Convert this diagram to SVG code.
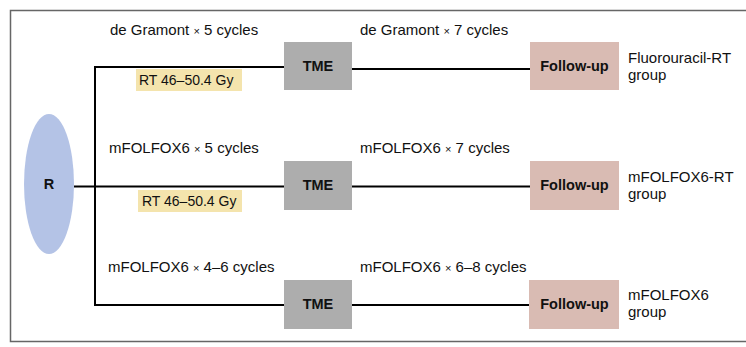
<svg xmlns="http://www.w3.org/2000/svg" width="746" height="347" viewBox="0 0 746 347">
  <style>
    text { font-family: "Liberation Sans", Arial, sans-serif; fill: #111; }
    .lbl { font-size: 15px; }
    .rtl { font-size: 14px; }
    .bold { font-size: 14.5px; font-weight: bold; text-anchor: middle; }
    .tme { fill: #adadad; }
    .fu { fill: #d9bbb3; }
    .rt { fill: #f4e4ad; }
    .conn { stroke: #000; stroke-width: 2; fill: none; }
    .x { font-size: 11px; }
  </style>
  <rect x="0" y="0" width="746" height="347" fill="#fff"/>
  <!-- frame -->
  <path d="M746 10.5 H10.5 V341.5 H746" fill="none" stroke="#666" stroke-width="1.5"/>

  <g id="connectors">
    <path class="conn" d="M74 186.5 H284"/>
    <path class="conn" d="M284 67 H95 V305 H284"/>
    <path class="conn" d="M352 69 H530"/>
    <path class="conn" d="M352 186.5 H530"/>
    <path class="conn" d="M352 305 H530"/>
  </g>

  <g id="node-R">
    <ellipse cx="49" cy="184" rx="25" ry="70" fill="#b4c3e6"/>
    <text class="bold" x="49" y="189">R</text>
  </g>

  <g id="rt-label-1">
    <rect class="rt" x="136" y="69" width="106" height="22"/>
    <text class="rtl" x="139" y="85">RT 46–50.4 Gy</text>
  </g>
  <g id="rt-label-2">
    <rect class="rt" x="138" y="190" width="104" height="22"/>
    <text class="rtl" x="142" y="206">RT 46–50.4 Gy</text>
  </g>

  <g id="cycle-labels">
    <text class="lbl" x="110" y="35">de Gramont <tspan class="x">×</tspan> 5 cycles</text>
    <text class="lbl" x="360" y="35">de Gramont <tspan class="x">×</tspan> 7 cycles</text>
    <text class="lbl" x="109" y="153">mFOLFOX6 <tspan class="x">×</tspan> 5 cycles</text>
    <text class="lbl" x="360" y="153">mFOLFOX6 <tspan class="x">×</tspan> 7 cycles</text>
    <text class="lbl" x="108" y="272">mFOLFOX6 <tspan class="x">×</tspan> 4–6 cycles</text>
    <text class="lbl" x="360" y="272">mFOLFOX6 <tspan class="x">×</tspan> 6–8 cycles</text>
  </g>

  <g id="tme-1">
    <rect class="tme" x="284" y="42" width="68" height="48"/>
    <text class="bold" x="318" y="71">TME</text>
  </g>
  <g id="tme-2">
    <rect class="tme" x="284" y="161" width="68" height="49"/>
    <text class="bold" x="318" y="190">TME</text>
  </g>
  <g id="tme-3">
    <rect class="tme" x="284" y="280" width="68" height="49"/>
    <text class="bold" x="318" y="309">TME</text>
  </g>

  <g id="followup-1">
    <rect class="fu" x="530" y="42" width="89" height="48"/>
    <text class="bold" x="574.5" y="71">Follow-up</text>
  </g>
  <g id="followup-2">
    <rect class="fu" x="530" y="161" width="89" height="49"/>
    <text class="bold" x="574.5" y="190">Follow-up</text>
  </g>
  <g id="followup-3">
    <rect class="fu" x="529" y="280" width="90" height="49"/>
    <text class="bold" x="574.5" y="309">Follow-up</text>
  </g>

  <g id="group-labels">
    <text class="lbl" x="628" y="63">Fluorouracil-RT</text>
    <text class="lbl" x="628" y="80">group</text>
    <text class="lbl" x="628" y="182">mFOLFOX6-RT</text>
    <text class="lbl" x="628" y="199">group</text>
    <text class="lbl" x="628" y="300">mFOLFOX6</text>
    <text class="lbl" x="628" y="317">group</text>
  </g>
</svg>
